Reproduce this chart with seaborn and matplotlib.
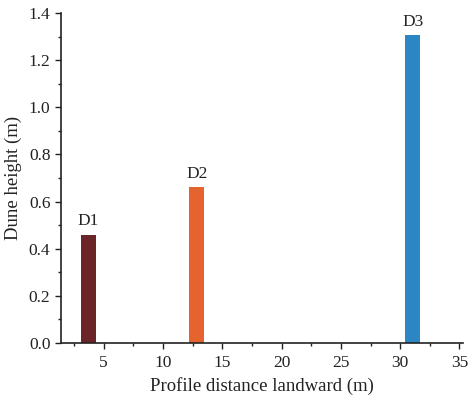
import matplotlib
matplotlib.use("Agg")
import matplotlib.pyplot as plt
import seaborn as sns
import pandas as pd
from matplotlib.ticker import MultipleLocator

labels = ["D1", "D2", "D3"]
positions = [3.72, 12.85, 31.05]
heights = [0.46, 0.66, 1.305]
colors = ["#6B2428", "#E5632F", "#2D86C4"]

sns.set_theme(style="ticks")
plt.rcParams['font.family'] = ['Liberation Serif', 'DejaVu Serif']

df = pd.DataFrame({"x": positions, "h": heights, "label": labels})

fig = plt.figure(figsize=(4.72, 3.96), dpi=100)
ax = fig.add_axes([0.129, 0.134, 0.852, 0.833])

min_gap = min(b - a for a, b in zip(positions[:-1], positions[1:]))
sns.barplot(data=df, x="x", y="h", hue="label", palette=colors, native_scale=True,
            dodge=False, width=1.27 / min_gap, legend=False, ax=ax, saturation=1,
            linewidth=0)

for x, h, lab in zip(positions, heights, labels):
    ax.text(x, h + 0.022, lab, ha="center", va="bottom", fontsize=12.5, color="#222222")

ax.set_xlim(1.4, 35.3)
ax.set_ylim(0, 1.4)
ax.xaxis.set_major_locator(MultipleLocator(5))
ax.xaxis.set_minor_locator(MultipleLocator(2.5))
ax.yaxis.set_major_locator(MultipleLocator(0.2))
ax.yaxis.set_minor_locator(MultipleLocator(0.1))
ax.yaxis.set_major_formatter(matplotlib.ticker.FormatStrFormatter('%.1f'))
ax.set_xticks([5, 10, 15, 20, 25, 30, 35])
ax.set_xticklabels(["5", "10", "15", "20", "25", "30", "35"])
ax.tick_params(axis="both", which="major", length=4, width=1, labelsize=12.5, direction="out",
               color="#222222", labelcolor="#222222")
ax.tick_params(axis="x", which="major", pad=5)
ax.tick_params(axis="both", which="minor", length=2.5, width=1, direction="out", color="#222222")
for s in ["top", "right"]:
    ax.spines[s].set_visible(False)
for s in ["left", "bottom"]:
    ax.spines[s].set_linewidth(1.2)
    ax.spines[s].set_color("#222222")

ax.set_xlabel("Profile distance landward (m)", fontsize=13.5, labelpad=4, color="#222222")
ax.set_ylabel("Dune height (m)", fontsize=13.5, labelpad=5, color="#222222")

fig.savefig("out.png", dpi=100)
